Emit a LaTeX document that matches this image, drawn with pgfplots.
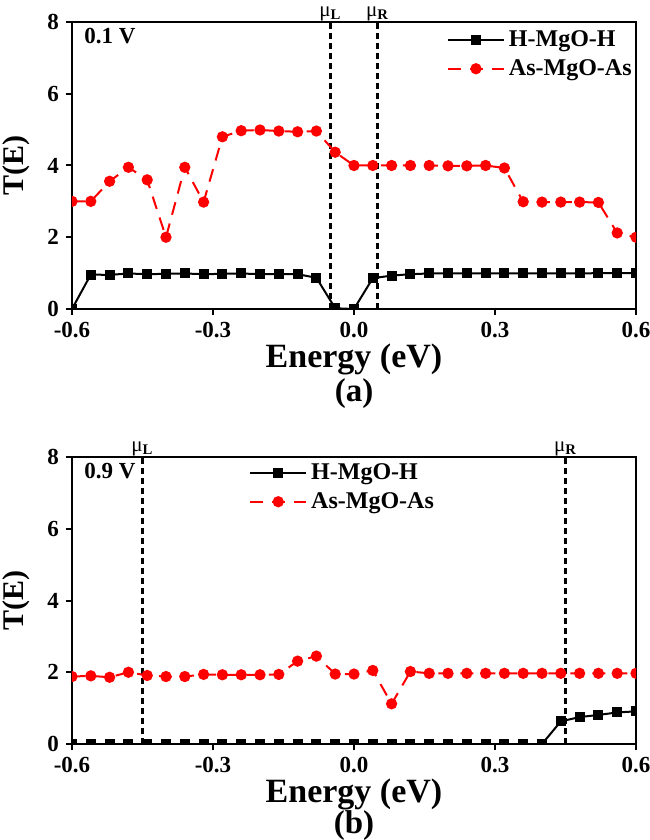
\documentclass[border=0pt]{standalone}
\usepackage{pgfplots}
\pgfplotsset{compat=1.18}
\usepackage{fontspec}
\setmainfont{Liberation Serif}

% transmission spectra, 0.04 eV grid
\pgfplotstableread{
E      H      As
-0.60  0.00   3.00
-0.56  0.96   3.00
-0.52  0.95   3.56
-0.48  0.99   3.95
-0.44  0.97   3.60
-0.40  0.98   2.00
-0.36  0.99   3.95
-0.32  0.97   2.98
-0.28  0.98   4.80
-0.24  0.99   4.97
-0.20  0.97   4.99
-0.16  0.97   4.96
-0.12  0.97   4.94
-0.08  0.87   4.96
-0.04  0.02   4.37
 0.00  0.00   4.00
 0.04  0.86   4.00
 0.08  0.93   4.00
 0.12  0.97   4.00
 0.16  0.99   4.00
 0.20  0.99   3.99
 0.24  0.99   3.99
 0.28  0.99   4.00
 0.32  0.99   3.93
 0.36  0.99   2.99
 0.40  0.99   2.98
 0.44  0.99   2.98
 0.48  0.99   2.98
 0.52  1.00   2.97
 0.56  1.00   2.12
 0.60  1.00   2.00
}\tablelow

\pgfplotstableread{
E      H      As
-0.60  0.00   1.88
-0.56  0.00   1.90
-0.52  0.00   1.86
-0.48  0.00   2.00
-0.44  0.00   1.91
-0.40  0.00   1.88
-0.36  0.00   1.88
-0.32  0.00   1.94
-0.28  0.00   1.93
-0.24  0.00   1.93
-0.20  0.00   1.93
-0.16  0.00   1.94
-0.12  0.00   2.31
-0.08  0.00   2.45
-0.04  0.00   1.95
 0.00  0.00   1.95
 0.04  0.00   2.05
 0.08  0.00   1.12
 0.12  0.00   2.02
 0.16  0.00   1.97
 0.20  0.00   1.97
 0.24  0.00   1.97
 0.28  0.00   1.97
 0.32  0.00   1.97
 0.36  0.00   1.97
 0.40  0.00   1.97
 0.44  0.63   1.97
 0.48  0.75   1.97
 0.52  0.81   1.97
 0.56  0.88   1.97
 0.60  0.91   1.97
}\tablehigh

\tikzset{
  mulabel/.style={anchor=south, inner sep=0pt, yshift=0.5pt, font=\fontsize{10.5}{12}\selectfont},
  biaslabel/.style={anchor=north west, inner sep=0pt, xshift=6pt, yshift=-3pt,
    font=\fontsize{11.5}{13}\selectfont\bfseries},
  panel/.style={font=\fontsize{16.5}{18}\selectfont\bfseries, inner sep=0pt},
}

\pgfplotsset{
  tpanel/.style={
    width=282pt, height=143.5pt, scale only axis,
    xmin=-0.6, xmax=0.6, ymin=0, ymax=8,
    xtick={-0.6,-0.3,0,0.3,0.6}, ytick={0,2,4,6,8},
    xtick pos=left, ytick pos=left,
    tick align=outside, major tick length=3pt,
    axis line style={line width=1pt},
    every tick/.style={black, line width=1pt},
    tick label style={font=\fontsize{11.5}{13}\selectfont\bfseries},
    /pgf/number format/assume math mode=true,
    xticklabel style={/pgf/number format/.cd, fixed, fixed zerofill, precision=1},
    xlabel={Energy (eV)},
    ylabel={T(E)},
    xlabel style={font=\fontsize{17}{19}\selectfont\bfseries, yshift=4pt},
    ylabel style={font=\fontsize{15}{17}\selectfont\bfseries, yshift=2pt},
    clip marker paths=true,
    clip mode=individual,
    legend cell align=left,
    legend style={draw=none, fill=none, font=\fontsize{12}{14}\selectfont\bfseries,
      row sep=1pt, inner sep=1pt},
    legend image code/.code={
      \draw[mark repeat=2, mark phase=2, #1]
        plot coordinates {(0pt,0pt) (14pt,0pt) (28pt,0pt)};
    },
  },
  hline/.style={black, line width=1pt, mark=square*, mark size=2pt},
  asline/.style={red, line width=1pt, dash pattern=on 6.5pt off 4.5pt,
    mark=*, mark size=2.3pt, mark options={solid}},
  mu/.style={black, line width=1.2pt, dash pattern=on 3pt off 2pt, forget plot},
}

\begin{document}
\begin{tikzpicture}
\path[use as bounding box] (-36pt,-48pt) rectangle (288.5pt,372pt);

% upper panel: 0.1 V bias
\begin{axis}[tpanel, at={(0pt,217.5pt)}, anchor=south west,
  legend style={at={(rel axis cs:1,1)}, anchor=north east, xshift=1pt, yshift=-1pt}]
  \addplot[mu] coordinates {(-0.05,0) (-0.05,8)};
  \addplot[mu] coordinates {(0.05,0) (0.05,8)};
  \addplot[hline] table[x=E, y=H] {\tablelow};
  \addlegendentry{H-MgO-H}
  \addplot[asline] table[x=E, y=As] {\tablelow};
  \addlegendentry{As-MgO-As}
  \node[mulabel] at (axis cs:-0.05,8) {μ\textsubscript{\textbf{L}}};
  \node[mulabel] at (axis cs:0.05,8) {μ\textsubscript{\textbf{R}}};
  \node[biaslabel] at (rel axis cs:0,1) {0.1 V};
\end{axis}
\node[panel] at (141pt,175pt) {(a)};

% lower panel: 0.9 V bias
\begin{axis}[tpanel, at={(0pt,0pt)}, anchor=south west,
  legend style={at={(rel axis cs:0.31,1)}, anchor=north west, yshift=0pt}]
  \addplot[mu] coordinates {(-0.45,0) (-0.45,8)};
  \addplot[mu] coordinates {(0.45,0) (0.45,8)};
  \addplot[hline] table[x=E, y=H] {\tablehigh};
  \addlegendentry{H-MgO-H}
  \addplot[asline] table[x=E, y=As] {\tablehigh};
  \addlegendentry{As-MgO-As}
  \node[mulabel] at (axis cs:-0.45,8) {μ\textsubscript{\textbf{L}}};
  \node[mulabel] at (axis cs:0.45,8) {μ\textsubscript{\textbf{R}}};
  \node[biaslabel] at (rel axis cs:0,1) {0.9 V};
\end{axis}
\node[panel] at (141pt,-41pt) {(b)};
\end{tikzpicture}
\end{document}
